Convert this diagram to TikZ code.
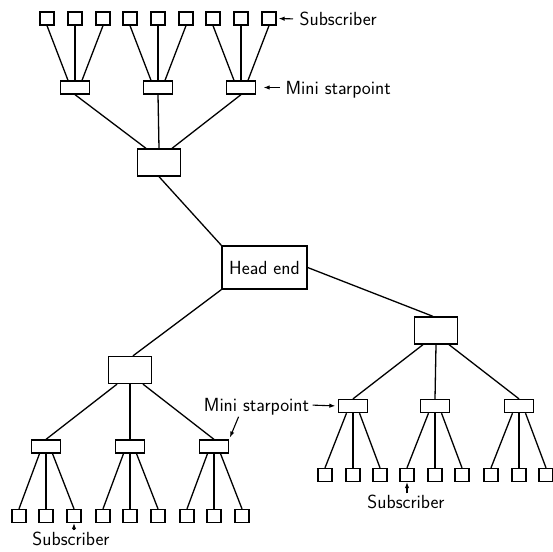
\documentclass[tikz,border=0pt]{standalone}
\usetikzlibrary{arrows.meta}

\tikzset{
	box/.style   = {draw, line width=1.3pt, inner sep=0pt},
	sub/.style   = {box, minimum width=14pt, minimum height=13pt},
	mini/.style  = {box, minimum width=29pt, minimum height=13pt},
	hub/.style   = {box, minimum width=43pt, minimum height=27pt},
	lbl/.style   = {font=\sffamily\fontsize{19}{21}\selectfont, inner sep=0pt, text height=13pt, text depth=0pt},
	arr/.style   = {line width=1.1pt, -{Latex[length=6pt,width=4.5pt]}},
}

\begin{document}
\begin{tikzpicture}[x=1pt, y=-1pt, line width=1.3pt]
	\useasboundingbox (0,0) rectangle (553,551);

	% head end and the three hubs
	\node[box, minimum width=85pt, minimum height=43pt, font=\sffamily\fontsize{19}{21}\selectfont] (head) at (264.5,267.5) {Head end};
	\node[hub] (th) at (159,162.5) {};
	\node[hub] (lh) at (130,370) {};
	\node[hub] (rh) at (436,330.5) {};
	\draw (th.south) -- (head.north west);
	\draw (head.south west) -- ([xshift=3pt]lh.north);
	\draw (head.east) -- ([xshift=-3pt]rh.north);

	% top tree
	\foreach \i/\x in {1/75,2/158,3/241}{
		\node[mini] (tm\i) at (\x,87.5) {};
		\draw ([xshift=13*(\i-2)*1pt]th.north) -- (tm\i.south);
		\foreach \j/\d in {1/-28,2/0,3/28}{
			\node[sub] (ts\i\j) at (\x+\d,18.5) {};
			\draw ([xshift=7*(\j-2)*1pt]tm\i.north) -- (ts\i\j.south);
		}
	}

	% lower left tree
	\foreach \i/\x in {1/46,2/130,3/214}{
		\node[mini] (lm\i) at (\x,446.5) {};
		\draw ([xshift=13*(\i-2)*1pt]lh.south) -- (lm\i.north);
		\foreach \j/\d in {1/-27,2/0,3/28}{
			\node[sub] (ls\i\j) at (\x+\d,516) {};
			\draw ([xshift=6.5*(\j-2)*1pt]lm\i.south) -- (ls\i\j.north);
		}
	}

	% lower right tree
	\foreach \i/\x in {1/353,2/435,3/519}{
		\node[mini] (rm\i) at (\x,406) {};
		\draw ([xshift=13*(\i-2)*1pt]rh.south) -- (rm\i.north);
		\foreach \j/\d in {1/-28,2/0,3/27}{
			\node[sub] (rs\i\j) at (\x+\d,475) {};
			\draw ([xshift=6.5*(\j-2)*1pt]rm\i.south) -- (rs\i\j.north);
		}
	}

	% labels
	\node[lbl, anchor=west] (tsl) at (299,19) {Subscriber};
	\node[lbl, anchor=west] (tml) at (285,87.5) {Mini starpoint};
	\node[lbl] (lml) at (256.5,405) {Mini starpoint};
	\node[lbl] (rsl) at (406,501.5) {Subscriber};
	\node[lbl] (lsl) at (71,538.5) {Subscriber};

	\draw[arr, shorten <=6pt, shorten >=2pt] (tsl.west) -- (ts33.east);
	\draw[arr, shorten <=5pt, shorten >=7.5pt] (tml.west) -- (tm3.east);
	\draw[arr, shorten <=3pt, shorten >=2.5pt] (lml.east) -- (rm1.west);
	\draw[arr, shorten <=5pt, shorten >=2pt] ([xshift=-16pt]lml.south) -- (lm3.north east);
	\draw[arr, shorten <=1pt] (rsl.north -| rs21.south) -- (rs21.south);
	\draw[arr, shorten <=1pt] (lsl.north -| ls13.south) -- (ls13.south);
\end{tikzpicture}
\end{document}
